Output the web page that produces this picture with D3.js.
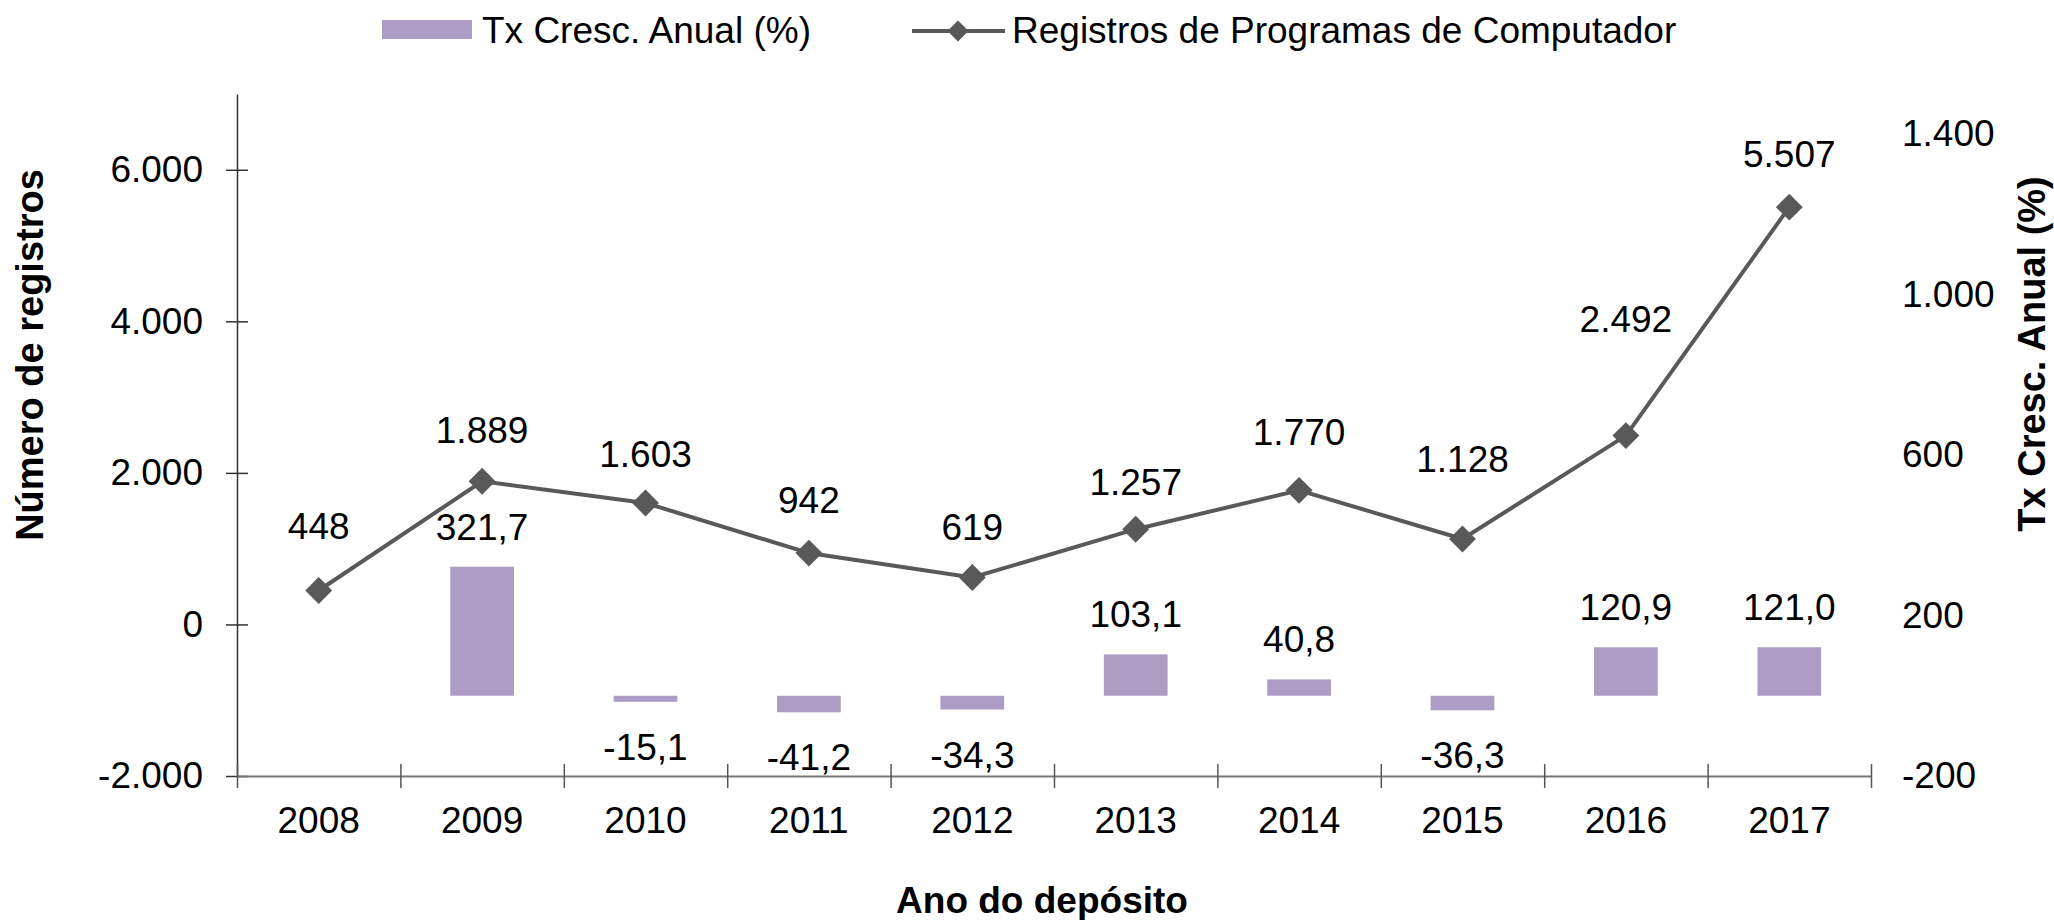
<!DOCTYPE html>
<html>
<head>
<meta charset="utf-8">
<script src="https://cdn.jsdelivr.net/npm/d3@7"></script>
<style>
  body { margin: 0; background: #fff; }
  text { font-family: "Liberation Sans", Arial, sans-serif; fill: #000; }
</style>
</head>
<body>
<div id="chart"></div>
<script>
// chart data
var years = ["2008", "2009", "2010", "2011", "2012", "2013", "2014", "2015", "2016", "2017"];
var registros = [448, 1889, 1603, 942, 619, 1257, 1770, 1128, 2492, 5507];
var txCresc = [null, 321.7, -15.1, -41.2, -34.3, 103.1, 40.8, -36.3, 120.9, 121.0];
var leftTicks = [-2000, 0, 2000, 4000, 6000];
var rightTicks = [-200, 200, 600, 1000, 1400];

// manual lift of the line labels above each marker (px), as placed in the original
var lineLabelLift = [-51, -38, -36, -40, -38, -34, -45, -67, -104, -40];

var svgWidth = 2054;
var svgHeight = 920;
var margin = { top: 94, bottom: 144, left: 237, right: 183 };
var width = svgWidth - margin.left - margin.right;
var height = svgHeight - margin.top - margin.bottom;

var barColor = "#ad9dc4";
var lineColor = "#595959";

// pt-BR number style: 1.889 / 321,7
var ptBR = d3.formatLocale({ decimal: ",", thousands: ".", grouping: [3], currency: ["R$", ""], minus: "-" });
var fmtInt = ptBR.format(",.0f");
var fmtDec = ptBR.format(",.1f");

var svg = d3.select("#chart")
  .append("svg")
  .attr("width", svgWidth)
  .attr("height", svgHeight);

var chartGroup = svg.append("g")
  .attr("transform", `translate(${margin.left}, ${margin.top})`);

// scales
var xBand = d3.scaleBand().domain(years).range([0, width]);
var xEdge = d3.scaleLinear().domain([0, years.length]).range([0, width]);
var yLeft = d3.scaleLinear().domain([-2000, 7000]).range([height, 0]);
var yRight = d3.scaleLinear().domain([-200, 1500]).range([height, 0]);

var barW = xBand.bandwidth() * 0.39;

// bars (growth rate, right axis)
var barData = years.map((y, i) => ({ year: y, v: txCresc[i] })).filter(d => d.v !== null);

chartGroup.selectAll("rect.bar")
  .data(barData)
  .enter()
  .append("rect")
  .attr("class", "bar")
  .attr("x", d => xBand(d.year) + xBand.bandwidth() / 2 - barW / 2)
  .attr("y", d => yRight(Math.max(0, d.v)))
  .attr("width", barW)
  .attr("height", d => Math.abs(yRight(d.v) - yRight(0)))
  .attr("fill", barColor);

chartGroup.selectAll("text.barLabel")
  .data(barData)
  .enter()
  .append("text")
  .attr("class", "barLabel")
  .attr("x", d => xBand(d.year) + xBand.bandwidth() / 2)
  .attr("y", d => d.v >= 0 ? yRight(d.v) - 27 : yRight(d.v) + 58)
  .attr("text-anchor", "middle")
  .style("font-size", "37px")
  .text(d => fmtDec(d.v));

// left axis
var leftAxis = d3.axisLeft(yLeft)
  .tickValues(leftTicks)
  .tickFormat(fmtInt)
  .tickSizeInner(11)
  .tickSizeOuter(0)
  .tickPadding(23);

var yAxisG = chartGroup.append("g").call(leftAxis);
yAxisG.select(".domain").attr("stroke", "#333").attr("stroke-width", 1.5);
yAxisG.selectAll(".tick line").attr("x1", -11).attr("x2", 11).attr("stroke", "#333").attr("stroke-width", 1.5);
yAxisG.selectAll(".tick text").style("font-size", "37px").style("font-family", "Liberation Sans, Arial, sans-serif").attr("fill", "#000");

// right axis (labels only)
var rightAxis = d3.axisRight(yRight)
  .tickValues(rightTicks)
  .tickFormat(fmtInt)
  .tickSize(0)
  .tickPadding(31);

var yRightG = chartGroup.append("g")
  .attr("transform", `translate(${width}, 0)`)
  .call(rightAxis);
yRightG.select(".domain").remove();
yRightG.selectAll(".tick text").style("font-size", "37px").style("font-family", "Liberation Sans, Arial, sans-serif").attr("fill", "#000");

// x axis: tick marks at category edges, labels at centres
var edgeAxis = d3.axisBottom(xEdge)
  .tickValues(d3.range(years.length + 1))
  .tickFormat("")
  .tickSizeInner(12)
  .tickSizeOuter(0);

var xAxisG = chartGroup.append("g")
  .attr("transform", `translate(0, ${height})`)
  .call(edgeAxis);
xAxisG.select(".domain").attr("stroke", "#777").attr("stroke-width", 2);
xAxisG.selectAll(".tick line").attr("y1", -12).attr("y2", 12).attr("stroke", "#555").attr("stroke-width", 1.5);

var labelAxis = d3.axisBottom(xBand).tickSize(0).tickPadding(31);
var xLabelG = chartGroup.append("g")
  .attr("transform", `translate(0, ${height})`)
  .call(labelAxis);
xLabelG.select(".domain").remove();
xLabelG.selectAll(".tick text").style("font-size", "37px").style("font-family", "Liberation Sans, Arial, sans-serif").attr("fill", "#000");

// line (registros, left axis)
var line = d3.line()
  .x((d, i) => xBand(years[i]) + xBand.bandwidth() / 2)
  .y(d => yLeft(d));

chartGroup.append("path")
  .datum(registros)
  .attr("d", line)
  .attr("fill", "none")
  .attr("stroke", lineColor)
  .attr("stroke-width", 4);

var diamond = d3.symbol(d3.symbolSquare, 19 * 19);

chartGroup.selectAll("path.marker")
  .data(registros)
  .enter()
  .append("path")
  .attr("class", "marker")
  .attr("d", diamond)
  .attr("transform", (d, i) => `translate(${xBand(years[i]) + xBand.bandwidth() / 2}, ${yLeft(d)}) rotate(45)`)
  .attr("fill", lineColor);

chartGroup.selectAll("text.lineLabel")
  .data(registros)
  .enter()
  .append("text")
  .attr("class", "lineLabel")
  .attr("x", (d, i) => xBand(years[i]) + xBand.bandwidth() / 2)
  .attr("y", (d, i) => yLeft(d) + lineLabelLift[i])
  .attr("text-anchor", "middle")
  .style("font-size", "37px")
  .text(d => fmtInt(d));

// axis titles
svg.append("text")
  .attr("transform", "translate(43, 355) rotate(-90)")
  .attr("text-anchor", "middle")
  .style("font-size", "38px")
  .style("font-weight", "bold")
  .text("Número de registros");

svg.append("text")
  .attr("transform", "translate(2045, 354) rotate(-90)")
  .attr("text-anchor", "middle")
  .style("font-size", "38px")
  .style("font-weight", "bold")
  .text("Tx Cresc. Anual (%)");

svg.append("text")
  .attr("x", 1042)
  .attr("y", 913)
  .attr("text-anchor", "middle")
  .style("font-size", "37px")
  .style("font-weight", "bold")
  .text("Ano do depósito");

// legend
var legend = svg.append("g");
legend.append("rect")
  .attr("x", 382).attr("y", 20)
  .attr("width", 90).attr("height", 19)
  .attr("fill", barColor);
legend.append("text")
  .attr("x", 482).attr("y", 43)
  .style("font-size", "37px")
  .text("Tx Cresc. Anual (%)");

legend.append("line")
  .attr("x1", 912).attr("x2", 1005)
  .attr("y1", 31).attr("y2", 31)
  .attr("stroke", lineColor)
  .attr("stroke-width", 4);
legend.append("path")
  .attr("d", d3.symbol(d3.symbolSquare, 15 * 15))
  .attr("transform", "translate(958, 31) rotate(45)")
  .attr("fill", lineColor);
legend.append("text")
  .attr("x", 1012).attr("y", 43)
  .style("font-size", "37px")
  .text("Registros de Programas de Computador");
</script>
</body>
</html>
